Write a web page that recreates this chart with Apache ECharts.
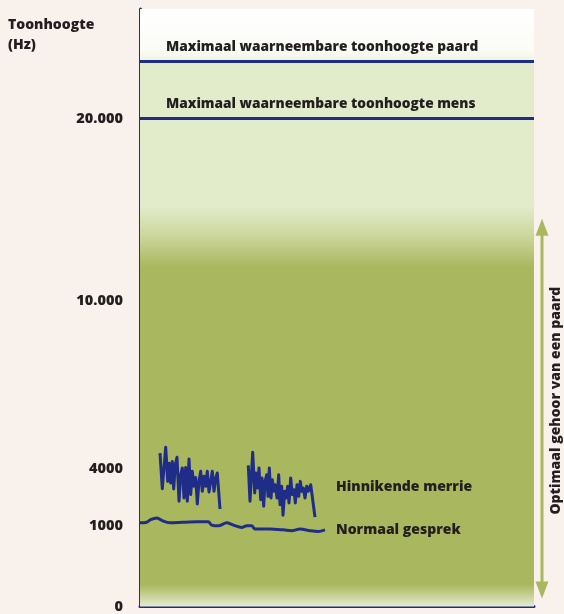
<!DOCTYPE html>
<html><head><meta charset="utf-8">
<script src="https://cdn.jsdelivr.net/npm/echarts@6/dist/echarts.min.js"></script>
<style>html,body{margin:0;padding:0;background:#f8f1ec}#c{width:564px;height:614px}</style>
</head><body><div id="c"></div>
<script>
// ---- data ----
const tickHz = [0, 1000, 4000, 10000, 20000];
const tickLabels = ['0', '1000', '4000', '10.000', '20.000'];
const maxHumanHz = 20000;
const maxHorseHz = 33500;
const optimalHorseHz = [100, 14500];

const neighX1 = [20, 22.3, 25.7, 27.7, 29.3, 30.7, 32.3, 33.7, 35.3, 37, 39, 40.7, 42.3, 44, 45.7, 47.3, 49, 50.7, 52.3, 54, 55.7, 57.3, 59, 60.7, 62.3, 64, 65.7, 67.3, 69, 70.7, 72.3, 74, 75.7, 77.3, 80];
const neighHz1 = [4570, 2960, 4780, 3350, 4210, 3260, 4270, 2950, 4150, 4420, 2300, 3700, 4040, 2470, 4060, 2300, 4360, 2650, 3880, 3090, 3560, 2160, 3350, 3880, 2830, 3620, 3090, 3880, 2790, 3350, 3880, 2830, 3530, 3790, 1890];
const neighX2 = [108.3, 110, 112.7, 114.7, 116, 117.7, 119, 120.7, 122, 123.7, 125, 126.7, 128, 129.3, 131, 132.3, 134, 135.3, 137, 138.7, 140, 141.7, 143, 144.7, 146, 147.7, 149, 150.7, 152.3, 154, 155.3, 157, 158.7, 160.3, 161.7, 163.3, 165, 166.7, 168.3, 170.7, 175];
const neighHz2 = [4130, 2300, 4600, 2740, 3790, 3000, 4040, 2380, 3530, 2040, 3350, 3700, 2560, 4040, 2470, 3440, 2830, 3170, 2470, 3700, 2120, 3090, 1560, 2830, 2470, 3090, 2210, 3530, 2650, 2910, 2210, 3170, 2560, 3350, 2830, 3000, 2470, 3090, 2830, 3170, 1460];
const talkX = [0, 6.7, 10.7, 16.7, 23.3, 30, 43.3, 56.7, 68.3, 71.7, 78.3, 86.7, 93.3, 101.7, 106.7, 111.7, 115, 130, 143.3, 151.7, 160, 170, 178.3, 185];
const talkHz = [1160, 1190, 1330, 1420, 1250, 1160, 1190, 1210, 1210, 1040, 1000, 1160, 1040, 980, 1000, 1000, 960, 960, 950, 940, 960, 940, 930, 950];

// ---- schematic (piecewise) frequency scale: Hz -> axis units ----
const scaleHz = [0, 1000, 4000, 10000, 20000, 33500, 45000];
const scaleU  = [0, 81, 138, 307, 490, 548, 600];
function toU(hz) {
  for (let i = 1; i < scaleHz.length; i++) {
    if (hz <= scaleHz[i]) {
      const t = (hz - scaleHz[i - 1]) / (scaleHz[i] - scaleHz[i - 1]);
      return scaleU[i - 1] + t * (scaleU[i] - scaleU[i - 1]);
    }
  }
  return scaleU[scaleU.length - 1];
}

const NAVY = '#1f2c88';
const DARK = '#231f20';
const OLIVE = '#a9b85e';
const LIGHT = '#e2ebca';
const FONT = 'Open Sans';
const FW = 800;

const neighData = neighX1.map((x, i) => [x, toU(neighHz1[i])])
  .concat([[94, null]])
  .concat(neighX2.map((x, i) => [x, toU(neighHz2[i])]));
const talkData = talkX.map((x, i) => [x, toU(talkHz[i])]);

const labelMap = {};
tickHz.forEach((h, i) => { labelMap[toU(h).toFixed(3)] = tickLabels[i]; });

const uMax = scaleU[scaleU.length - 1];
const uTopBand = toU(maxHorseHz);
const f = u => (uTopBand - u) / uTopBand;
const bandGradient = {
  type: 'linear', x: 0, y: 0, x2: 0, y2: 1,
  colorStops: [
    {offset: 0, color: LIGHT},
    {offset: f(401), color: LIGHT},
    {offset: f(371), color: '#cbd59a'},
    {offset: f(341), color: OLIVE},
    {offset: f(22), color: OLIVE},
    {offset: 1, color: '#e6ead0'}
  ]
};

const chart = echarts.init(document.getElementById('c'), null, {renderer: 'canvas'});
const option = {
  animation: false,
  backgroundColor: '#f8f1ec',
  textStyle: {fontFamily: FONT},
  title: {
    text: 'Toonhoogte\n(Hz)', left: 3, top: 10,
    textStyle: {fontFamily: FONT, fontWeight: FW, fontSize: 14, color: DARK, lineHeight: 20}
  },
  grid: {left: 140, right: 30, top: 9, bottom: 2},
  xAxis: {
    type: 'value', min: 0, max: 394,
    axisLine: {show: true, lineStyle: {color: NAVY, width: 3}},
    axisTick: {show: false}, axisLabel: {show: false}, splitLine: {show: false}
  },
  yAxis: {
    type: 'value', min: 0, max: uMax,
    axisLine: {show: true, lineStyle: {color: NAVY, width: 3}},
    axisTick: {show: false}, splitLine: {show: false},
    axisLabel: {
      customValues: tickHz.map(toU),
      formatter: v => labelMap[Number(v).toFixed(3)] || '',
      fontFamily: FONT, fontWeight: FW, fontSize: 14.5, color: DARK, margin: 17
    }
  },
  series: [
    {
      type: 'line', name: 'achtergrond', data: [], z: 0, silent: true,
      markArea: {
        silent: true,
        data: [
          [{yAxis: uMax, itemStyle: {color: {type: 'linear', x: 0, y: 0, x2: 0, y2: 1, colorStops: [{offset: 0, color: '#ffffff'}, {offset: 0.8, color: '#fbfcf7'}, {offset: 1, color: '#eef3e0'}]}}}, {yAxis: uTopBand}],
          [{yAxis: uTopBand, itemStyle: {color: bandGradient}}, {yAxis: 0}]
        ]
      },
      markLine: {
        silent: true, symbol: 'none',
        lineStyle: {color: NAVY, width: 3, type: 'solid'},
        label: {
          position: 'insideStartTop', distance: [26, 7],
          fontFamily: FONT, fontWeight: FW, fontSize: 13.7, color: DARK
        },
        data: [
          {yAxis: toU(maxHorseHz), label: {formatter: 'Maximaal waarneembare toonhoogte paard'}},
          {yAxis: toU(maxHumanHz), label: {formatter: 'Maximaal waarneembare toonhoogte mens'}}
        ]
      }
    },
    {
      type: 'line', name: 'Hinnikende merrie', data: neighData, z: 3,
      showSymbol: false, connectNulls: false,
      lineStyle: {color: NAVY, width: 3, join: 'round'},
      endLabel: {
        show: true, formatter: 'Hinnikende merrie', distance: 21, offset: [0, -30],
        fontFamily: FONT, fontWeight: FW, fontSize: 14, color: DARK
      }
    },
    {
      type: 'line', name: 'Normaal gesprek', data: talkData, z: 3,
      showSymbol: false, smooth: 0.3,
      lineStyle: {color: NAVY, width: 3},
      endLabel: {
        show: true, formatter: 'Normaal gesprek', distance: 11,
        fontFamily: FONT, fontWeight: FW, fontSize: 14, color: DARK
      }
    }
  ]
};
chart.setOption(option);

// annotation arrow for optimal hearing range, positioned through the y axis
const yTop = chart.convertToPixel({gridIndex: 0}, [0, toU(optimalHorseHz[1])])[1];
const yBot = chart.convertToPixel({gridIndex: 0}, [0, toU(optimalHorseHz[0])])[1];
const ax = 542, head = 17, hw = 6.5;
chart.setOption({
  graphic: [
    {type: 'line', shape: {x1: ax, y1: yTop + head - 2, x2: ax, y2: yBot - head + 2}, style: {stroke: OLIVE, lineWidth: 3}},
    {type: 'polygon', shape: {points: [[ax, yTop], [ax - hw, yTop + head], [ax + hw, yTop + head]]}, style: {fill: OLIVE}},
    {type: 'polygon', shape: {points: [[ax, yBot], [ax - hw, yBot - head], [ax + hw, yBot - head]]}, style: {fill: OLIVE}},
    {type: 'text', x: 556, y: (yTop + yBot) / 2 - 8, rotation: Math.PI / 2,
     style: {text: 'Optimaal gehoor van een paard', fill: DARK, font: '800 14px "Open Sans"', align: 'center', verticalAlign: 'middle'}}
  ]
});
</script>
</body></html>
